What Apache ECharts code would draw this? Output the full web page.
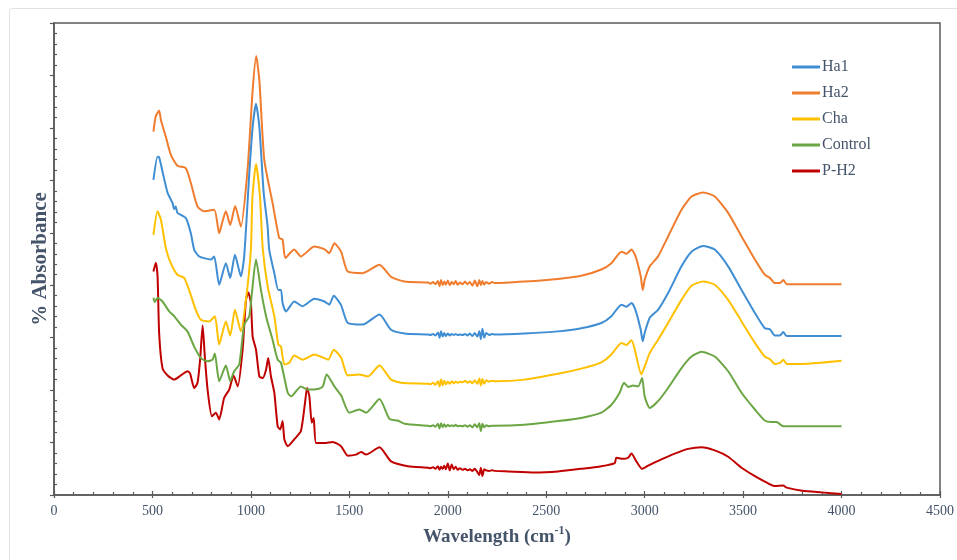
<!DOCTYPE html>
<html><head><meta charset="utf-8">
<script src="https://cdn.jsdelivr.net/npm/echarts@6/dist/echarts.min.js"></script>
<style>html,body{margin:0;padding:0;background:#fff}#c{width:957px;height:560px}</style>
</head><body><div id="c"></div>
<script>
// ---- data (wavenumber in cm-1, absorbance in arbitrary offset units) ----
const seriesNames = ['Ha1', 'Ha2', 'Cha', 'Control', 'P-H2'];
const xTickValues = [0, 500, 1000, 1500, 2000, 2500, 3000, 3500, 4000, 4500];

const ha1Wn  = [505,526,534,551,577,602,610,618,627,670,695,712,737,797,814,839,873,895,919,949,966,992,1009,1026,1043,1065,1085,1093,1119,1139,1153,1161,1178,1220,1263,1322,1373,1398,1421,1458,1492,1568,1653,1712,1780,
  1900,1912,1925,1937,1950,1958,1966,1974,1982,1990,2000,2010,2020,2030,2040,2050,2062,2075,2088,2100,2112,2125,2137,2150,2160,2168,2176,2185,2195,2210,2225,2240,
  2390,2560,2678,2780,2831,2882,2907,2933,2953,2980,2990,3000,3026,3068,3119,3187,3238,3297,3356,3424,3492,3560,3610,3636,3661,3687,3704,3721,4000];
const ha1Abs = [6.01,6.45,6.44,6.17,5.76,5.57,5.45,5.50,5.38,5.28,4.99,4.68,4.55,4.49,4.55,4.01,4.42,4.14,4.58,4.17,4.55,6.14,7.02,7.46,7.02,5.76,5.12,4.68,4.23,3.91,3.91,3.66,3.50,3.69,3.60,3.74,3.69,3.63,3.80,3.62,3.28,3.25,3.44,3.15,3.08,
  3.06,3.05,3.07,3.04,3.10,3.00,3.12,3.02,3.09,3.03,3.08,3.04,3.07,3.05,3.07,3.05,3.06,3.05,3.07,3.04,3.08,3.03,3.09,3.02,3.12,2.97,3.17,3.00,3.09,3.05,3.07,3.06,
  3.08,3.12,3.18,3.28,3.41,3.63,3.59,3.66,3.53,3.15,2.93,3.09,3.38,3.53,3.85,4.36,4.64,4.75,4.68,4.36,3.91,3.47,3.18,3.16,3.04,3.04,3.11,3.03,3.03];

const ha2Wn  = [505,517,534,543,568,593,627,670,695,729,763,814,839,856,873,895,920,949,983,1009,1027,1043,1068,1110,1144,1161,1175,1220,1254,1322,1373,1398,1424,1458,1492,1568,1653,1712,1780,
  1900,1912,1925,1937,1950,1958,1966,1974,1982,1990,2000,2010,2020,2030,2040,2050,2062,2075,2088,2100,2112,2125,2137,2150,2160,2168,2176,2185,2195,2210,2225,2240,
  2390,2560,2678,2780,2831,2882,2907,2933,2953,2980,2990,3000,3026,3068,3119,3187,3238,3297,3356,3424,3492,3560,3610,3636,3661,3687,3704,3721,3797,4000];
const ha2Abs = [6.93,7.22,7.33,7.15,6.83,6.49,6.28,6.23,5.95,5.50,5.41,5.44,4.99,5.22,5.41,5.15,5.51,5.12,6.20,7.72,8.37,7.91,6.39,5.57,4.90,4.87,4.52,4.68,4.55,4.74,4.69,4.61,4.80,4.64,4.26,4.23,4.39,4.16,4.07,
  4.05,4.03,4.06,4.02,4.08,3.98,4.10,4.00,4.07,4.01,4.09,4.00,4.06,4.02,4.08,4.01,4.05,4.02,4.07,4.02,4.06,3.99,4.09,3.98,4.10,4.00,4.08,4.01,4.06,4.03,4.06,4.04,
  4.07,4.12,4.18,4.30,4.42,4.64,4.60,4.68,4.56,4.17,3.91,4.10,4.36,4.55,4.93,5.44,5.69,5.77,5.69,5.38,4.93,4.49,4.20,4.14,4.04,4.04,4.10,4.02,4.02,4.02];

const chaWn  = [505,526,543,568,593,627,661,686,720,746,788,817,839,873,895,919,949,975,1000,1008,1026,1046,1060,1085,1119,1139,1153,1170,1195,1220,1263,1322,1373,1393,1421,1458,1492,1551,1594,1653,1712,1763,
  1900,1912,1925,1937,1950,1958,1966,1974,1982,1990,2000,2010,2020,2030,2040,2050,2062,2075,2088,2100,2112,2125,2137,2150,2160,2168,2176,2185,2195,2210,2225,2240,
  2390,2560,2678,2780,2831,2882,2907,2933,2950,2983,3000,3026,3068,3119,3187,3238,3297,3356,3424,3492,3560,3610,3636,3661,3687,3704,3721,3797,4000];
const chaAbs = [4.96,5.41,5.25,4.71,4.42,4.20,4.14,3.91,3.53,3.34,3.31,3.41,2.87,3.31,3.04,3.53,3.12,3.72,4.68,5.69,6.31,5.69,4.71,3.98,3.41,2.87,2.83,2.49,2.52,2.66,2.58,2.68,2.61,2.58,2.77,2.62,2.28,2.30,2.26,2.47,2.20,2.14,
  2.12,2.11,2.14,2.10,2.17,2.07,2.20,2.09,2.18,2.11,2.16,2.12,2.17,2.13,2.16,2.14,2.16,2.15,2.18,2.14,2.17,2.13,2.19,2.12,2.22,2.09,2.21,2.12,2.19,2.16,2.18,2.17,
  2.20,2.31,2.41,2.53,2.68,2.90,2.86,2.95,2.77,2.30,2.45,2.71,2.96,3.28,3.72,3.99,4.07,4.01,3.72,3.31,2.90,2.64,2.59,2.50,2.52,2.58,2.50,2.50,2.56];

const controlWn  = [505,512,526,551,585,610,644,678,712,746,780,805,817,839,873,895,915,941,966,992,1026,1051,1077,1110,1136,1153,1187,1204,1254,1288,1339,1365,1385,1424,1458,1500,1551,1585,1653,1704,1746,1780,
  1900,1912,1925,1937,1950,1958,1966,1974,1982,1990,2000,2010,2020,2030,2040,2050,2062,2075,2088,2100,2112,2125,2137,2150,2160,2168,2176,2185,2195,2210,2225,2240,
  2390,2560,2678,2780,2831,2873,2895,2916,2941,2967,2987,3000,3026,3068,3119,3187,3238,3289,3356,3424,3492,3560,3610,3644,3670,3704,4000];
const controlAbs = [3.76,3.68,3.76,3.69,3.50,3.41,3.25,3.12,2.83,2.61,2.55,2.58,2.70,2.17,2.47,2.17,2.36,2.49,3.25,3.41,4.49,3.91,3.41,2.96,2.58,2.52,1.95,1.88,2.07,2.01,2.02,2.07,2.30,2.07,1.90,1.57,1.63,1.57,1.83,1.45,1.42,1.36,
  1.32,1.31,1.33,1.30,1.36,1.27,1.37,1.29,1.35,1.30,1.34,1.31,1.33,1.31,1.34,1.31,1.32,1.31,1.33,1.30,1.33,1.29,1.35,1.29,1.37,1.22,1.36,1.29,1.33,1.31,1.32,1.32,
  1.34,1.41,1.47,1.57,1.72,1.95,2.14,2.06,2.09,2.07,2.23,1.88,1.66,1.79,2.04,2.42,2.64,2.73,2.64,2.36,1.95,1.63,1.42,1.39,1.39,1.31,1.31];

const ph2Wn  = [505,517,526,534,551,577,610,644,678,691,712,729,742,755,766,780,802,822,839,864,890,912,933,958,975,987,1000,1009,1026,1043,1060,1077,1088,1102,1119,1136,1149,1161,1170,1187,1220,1254,1275,1285,1297,1309,1319,1331,1373,1416,1458,1492,1534,1560,1585,1653,1712,1797,
  1900,1912,1925,1937,1950,1958,1966,1974,1982,1990,2000,2010,2020,2030,2040,2050,2062,2075,2088,2100,2112,2125,2137,2150,2160,2168,2176,2185,2195,2210,2225,2240,
  2306,2441,2560,2678,2780,2848,2856,2890,2916,2933,2958,2987,3018,3085,3153,3221,3289,3356,3424,3492,3560,3628,3661,3704,3721,3800,3900,4000];
const ph2Abs = [4.26,4.43,4.17,3.09,2.42,2.28,2.20,2.28,2.36,2.32,2.04,2.14,2.58,3.23,2.64,2.01,1.50,1.57,1.44,1.85,2.01,2.28,2.07,2.77,3.72,3.86,3.66,3.02,2.77,2.26,2.23,2.39,2.61,2.26,1.95,1.31,1.25,1.41,1.06,0.93,1.06,1.22,1.76,2.04,1.88,1.38,1.47,0.99,0.99,1.01,0.93,0.75,0.77,0.82,0.77,0.91,0.64,0.55,
  0.52,0.51,0.53,0.50,0.55,0.48,0.54,0.50,0.56,0.49,0.60,0.47,0.58,0.49,0.54,0.48,0.51,0.48,0.50,0.47,0.49,0.46,0.50,0.44,0.38,0.52,0.36,0.49,0.47,0.46,0.47,0.46,
  0.45,0.43,0.45,0.50,0.55,0.61,0.71,0.69,0.71,0.79,0.64,0.50,0.56,0.68,0.79,0.88,0.91,0.85,0.73,0.52,0.36,0.22,0.17,0.18,0.14,0.08,0.05,0.02];

const seriesWn  = [ha1Wn, ha2Wn, chaWn, controlWn, ph2Wn];
const seriesAbs = [ha1Abs, ha2Abs, chaAbs, controlAbs, ph2Abs];
const seriesColors = ['#3F8ED3', '#F07C2E', '#FFC000', '#6BA644', '#C00000'];

// ---- chart ----
const txt = '#44546A';
const axisCol = '#595959';
const font = '"Liberation Serif", "Times New Roman", serif';
const chart = echarts.init(document.getElementById('c'), null, {renderer: 'canvas'});

const series = seriesNames.map((n, i) => ({
  name: n, type: 'line', xAxisIndex: 0, yAxisIndex: 0,
  data: seriesWn[i].map((w, j) => [w, seriesAbs[i][j]]),
  showSymbol: false, symbol: 'none', smooth: 0.2,
  lineStyle: {color: seriesColors[i], width: 2},
  itemStyle: {color: seriesColors[i]},
  z: 10 - i
}));

const xBase = {type: 'value', min: 0, max: 4500, interval: 500, gridIndex: 0, position: 'bottom', splitLine: {show: false}};
const yBase = {type: 'value', min: 0, max: 9, interval: 1, gridIndex: 0, position: 'left', splitLine: {show: false}};

chart.setOption({
  backgroundColor: '#ffffff',
  animation: false,
  textStyle: {fontFamily: font},
  graphic: [{type: 'rect', shape: {x: 9.5, y: 8.5, width: 1000, height: 1000, r: 3}, style: {fill: 'none', stroke: '#e2e2e2', lineWidth: 1}, silent: true}],
  grid: {left: 54, right: 17, top: 23, bottom: 65, show: true, borderColor: axisCol, borderWidth: 1.5, backgroundColor: 'transparent'},
  legend: {
    orient: 'vertical', left: 792, top: 59, itemGap: 10, padding: 0,
    itemWidth: 28, itemHeight: 3, icon: 'rect',
    data: seriesNames,
    textStyle: {fontFamily: font, fontSize: 16, color: txt, padding: [0, 0, 0, -3]}
  },
  xAxis: [
    Object.assign({}, xBase, {
      name: '{a|Wavelength (cm}{s|-1}{a|)}', nameLocation: 'middle', nameGap: 26,
      nameTextStyle: {rich: {
        a: {fontFamily: font, fontSize: 19, fontWeight: 'bold', color: txt, lineHeight: 24, verticalAlign: 'bottom'},
        s: {fontFamily: font, fontSize: 12, fontWeight: 'bold', color: txt, lineHeight: 24, verticalAlign: 'top', padding: [2, 0, 0, 0]}
      }},
      axisLine: {show: true, lineStyle: {color: axisCol, width: 1.5}},
      axisTick: {show: true, inside: true, length: 4, lineStyle: {color: axisCol, width: 1.2}},
      minorTick: {show: true, splitNumber: 5, length: 3, lineStyle: {color: axisCol, width: 1.2}},
      axisLabel: {show: true, margin: 9, fontFamily: font, fontSize: 14, color: txt,
        formatter: v => xTickValues.indexOf(v) >= 0 ? String(v) : ''}
    }),
    Object.assign({}, xBase, {
      axisLine: {show: false}, axisLabel: {show: false},
      axisTick: {show: true, inside: false, length: 3, lineStyle: {color: axisCol, width: 1.2}},
      minorTick: {show: false}
    })
  ],
  yAxis: [
    Object.assign({}, yBase, {
      name: '% Absorbance', nameLocation: 'middle', nameGap: 3, nameRotate: 90,
      nameTextStyle: {fontFamily: font, fontSize: 21, fontWeight: 'bold', color: txt},
      axisLine: {show: true, lineStyle: {color: axisCol, width: 1.5}},
      axisTick: {show: true, inside: false, length: 4, lineStyle: {color: axisCol, width: 1.2}},
      minorTick: {show: false},
      axisLabel: {show: false}
    }),
    Object.assign({}, yBase, {
      axisLine: {show: false}, axisLabel: {show: false},
      axisTick: {show: false, inside: true},
      minorTick: {show: true, splitNumber: 5, length: 3, lineStyle: {color: axisCol, width: 1.2}}
    })
  ],
  series: series
});
</script>
</body></html>
